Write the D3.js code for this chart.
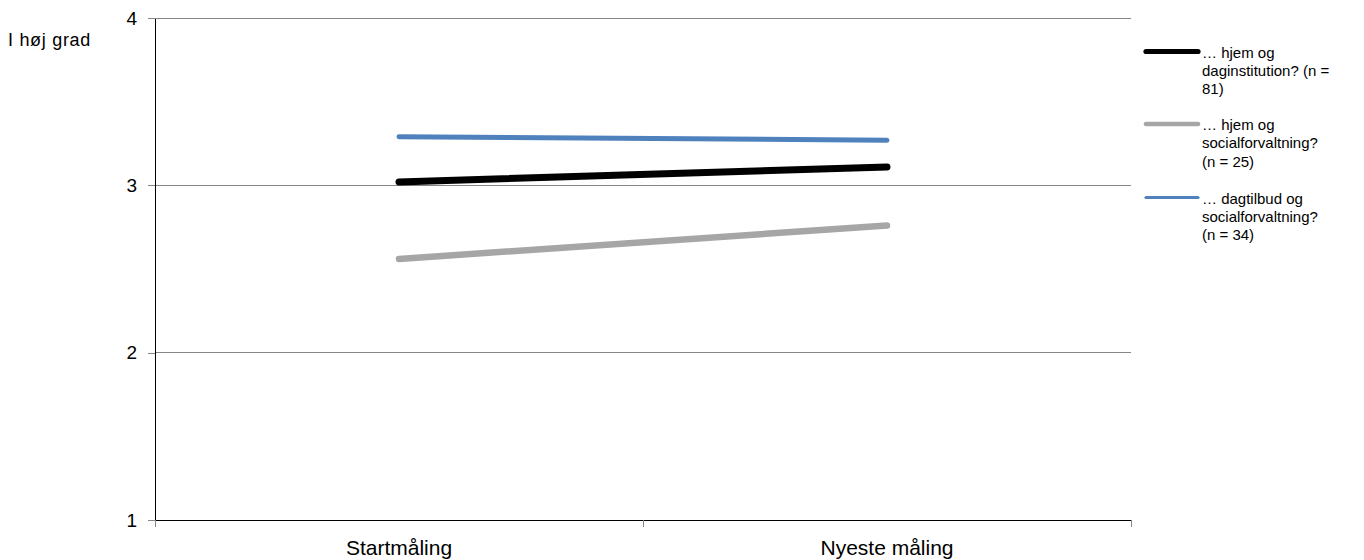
<!DOCTYPE html>
<html><head><meta charset="utf-8">
<script src="https://cdn.jsdelivr.net/npm/d3@7/dist/d3.min.js"></script>
<style>body{margin:0;background:#fff}svg{display:block}text{font-family:"Liberation Sans",Arial,sans-serif}</style>
</head><body><svg id="c" width="1364" height="560"></svg>
<script>
const categories = ["Startmåling", "Nyeste måling"];
const seriesNames = [
  ["… hjem og", "daginstitution? (n =", "81)"],
  ["… hjem og", "socialforvaltning?", "(n = 25)"],
  ["… dagtilbud og", "socialforvaltning?", "(n = 34)"]
];
const seriesValues = [
  [3.02, 3.11],
  [2.56, 2.76],
  [3.29, 3.27]
];
const seriesColors = ["#000000", "#a6a6a6", "#4f81bd"];
const seriesWidths = [7, 6.5, 5];
const yTicks = [1, 2, 3, 4];
const yLabel = "I høj grad";

const svg = d3.select("#c");
const L = 155, R = 1131, T = 18, B = 520;
const x = d3.scaleBand().domain(categories).range([L, R]);
const y = d3.scaleLinear().domain([1, 4]).range([B, T]);

// gridlines
svg.append("g").selectAll("line").data(yTicks.filter(d => d > 1)).join("line")
  .attr("x1", L).attr("x2", R).attr("y1", d => y(d)).attr("y2", d => y(d))
  .attr("stroke", "#868686").attr("stroke-width", 1).attr("shape-rendering", "crispEdges");

// y axis
const ya = svg.append("g").attr("transform", `translate(${L},0)`)
  .call(d3.axisLeft(y).tickValues(yTicks).tickFormat(d3.format("d")).tickSizeOuter(0).tickSizeInner(7).tickPadding(11));
ya.select(".domain").attr("stroke", "#000").attr("shape-rendering", "crispEdges");
ya.selectAll(".tick line").attr("stroke", "#868686").attr("shape-rendering", "crispEdges");
ya.selectAll("text").attr("font-size", 19).attr("fill", "#000").attr("font-family", "Liberation Sans, Arial, sans-serif");

// x axis
const xa = svg.append("g").attr("transform", `translate(0,${B})`)
  .call(d3.axisBottom(x).tickSize(0).tickPadding(20));
xa.select(".domain").remove();
xa.selectAll("text").attr("font-size", 21).attr("fill", "#000").attr("font-family", "Liberation Sans, Arial, sans-serif");
svg.append("line").attr("x1", L).attr("x2", R).attr("y1", B).attr("y2", B)
  .attr("stroke", "#000").attr("shape-rendering", "crispEdges");
const bounds = [L, ...categories.slice(1).map(c => x(c)), R];
svg.append("g").selectAll("line").data(bounds).join("line")
  .attr("x1", d => d).attr("x2", d => d).attr("y1", B).attr("y2", B + 7)
  .attr("stroke", "#868686").attr("shape-rendering", "crispEdges");

// y label
svg.append("text").attr("x", 8).attr("y", 46).attr("font-size", 18).attr("letter-spacing", 0.7).text(yLabel);

// lines
const line = d3.line().x((d, i) => x(categories[i]) + x.bandwidth() / 2).y(d => y(d));
const order = [1, 0, 2];
svg.append("g").selectAll("path").data(order).join("path")
  .attr("d", i => line(seriesValues[i]))
  .attr("fill", "none").attr("stroke", i => seriesColors[i])
  .attr("stroke-width", i => seriesWidths[i]).attr("stroke-linecap", "round");

// legend
const lg = svg.append("g");
const legTop = [51.5, 124, 197.5];
seriesNames.forEach((lines, i) => {
  const g = lg.append("g").attr("transform", `translate(0,${legTop[i]})`);
  g.append("line").attr("x1", 1146).attr("x2", 1198).attr("y1", 0).attr("y2", 0)
    .attr("stroke", seriesColors[i]).attr("stroke-width", seriesWidths[i] - 1.8).attr("stroke-linecap", "round");
  lines.forEach((t, j) => {
    g.append("text").attr("x", 1202).attr("y", 6 + j * 18.3).attr("font-size", 15).text(t);
  });
});
</script></body></html>
